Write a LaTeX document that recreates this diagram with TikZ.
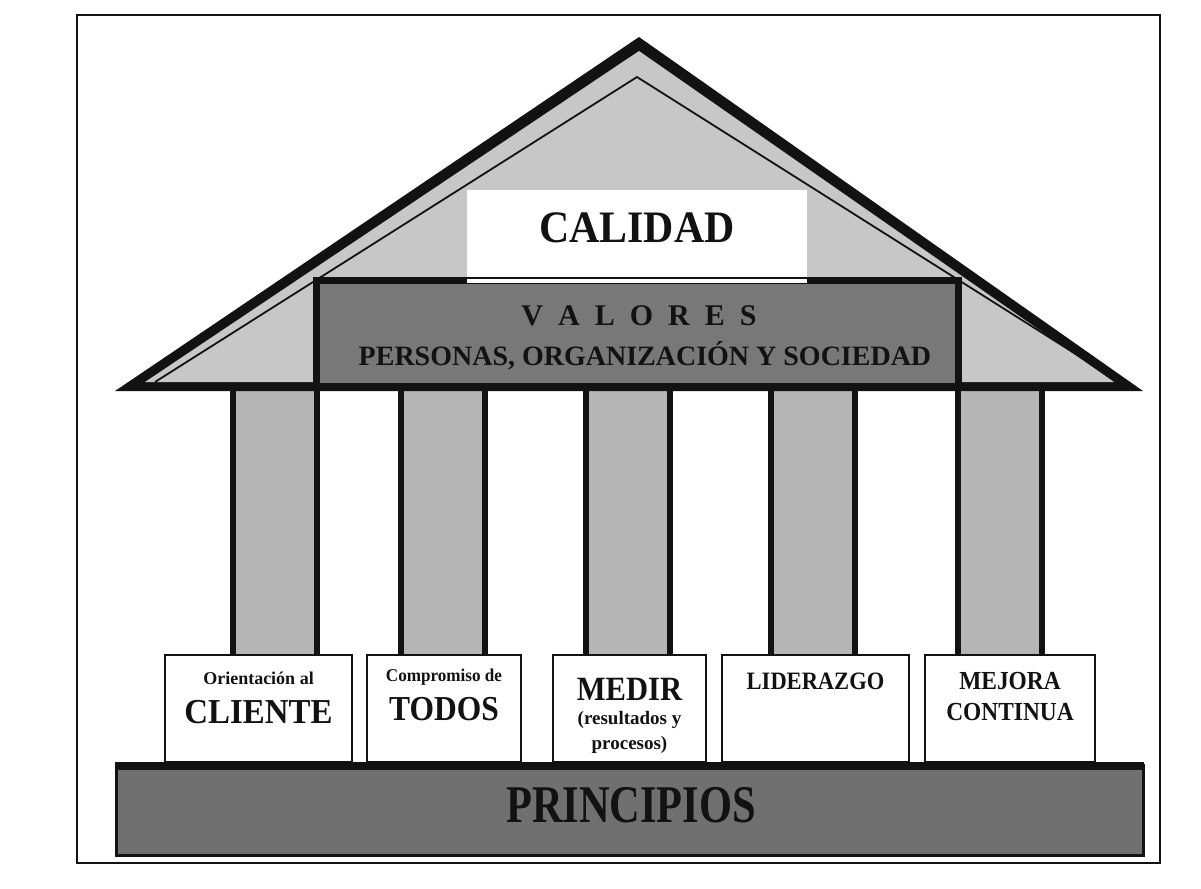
\documentclass[tikz,border=0pt]{standalone}
\usepackage{fontspec}
\setmainfont{Liberation Serif}
\usepackage{xcolor}
\usetikzlibrary{positioning,calc}

\definecolor{ink}{gray}{0.07}
\definecolor{roofgray}{gray}{0.78}
\definecolor{colgray}{gray}{0.71}
\definecolor{valgray}{gray}{0.47}
\definecolor{basegray}{gray}{0.44}

\begin{document}
\begin{tikzpicture}[x=0.5pt, y=-0.5pt,
  lbl/.style={inner sep=0pt, text=ink, font=\bfseries},
  pillar/.style={fill=colgray, draw=ink, line width=3pt},
  tile/.style={fill=white, draw=ink, line width=0.6pt}]
  \useasboundingbox (0,0) rectangle (1201,889);

  % Frame
  \draw[ink, line width=0.6pt] (77,15) rectangle (1160,863);

  % Pillars
  \foreach \px in {230, 398, 583, 768, 955}
    \draw[pillar] (\px+3,386) rectangle (\px+87,660);

  % Roof
  \fill[ink] (115,391) -- (639,37) -- (1143,391) -- cycle;
  \fill[roofgray] (145,382) -- (639,51) -- (1114,382) -- cycle;
  \draw[ink, line width=0.9pt] (155,382) -- (637,77) -- (1120,382);

  % Valores band
  \filldraw[fill=valgray, draw=ink, line width=3.5pt] (316.5,280) rectangle (958.5,386);
  \fill[white] (467,190) rectangle (807,283);
  \draw[ink, line width=0.8pt] (467,278) -- (807,278);
  \node[lbl, font=\bfseries\fontsize{22.5}{24}\selectfont] (calidad) at (637,228)
    {\scalebox{0.93}[1]{CALIDAD}};
  \node[lbl, font=\bfseries\fontsize{15}{17}\selectfont] (valores) at (639,316)
    {V\hspace{.5em}A\hspace{.5em}L\hspace{.5em}O\hspace{.5em}R\hspace{.5em}E\hspace{.5em}S};
  \node[lbl, font=\bfseries\fontsize{14}{16}\selectfont] (personas) at (645,356)
    {PERSONAS, ORGANIZACIÓN Y SOCIEDAD};

  % Principle tiles
  \draw[tile] (165,655) rectangle (352,762);
  \draw[tile] (367,655) rectangle (521,762);
  \draw[tile] (553,655) rectangle (706,762);
  \draw[tile] (722,655) rectangle (909,762);
  \draw[tile] (925,655) rectangle (1095,762);

  \node[lbl, font=\bfseries\fontsize{9}{10}\selectfont] (cli1) at (258.5,678) {Orientación al};
  \node[lbl, font=\bfseries\fontsize{17.5}{19}\selectfont] (cli2) at (258.5,712)
    {\scalebox{0.94}[1]{CLIENTE}};
  \node[lbl, font=\bfseries\fontsize{9}{10}\selectfont] (tod1) at (444,677) {\scalebox{0.95}[1]{Compromiso de}};
  \node[lbl, font=\bfseries\fontsize{17.5}{19}\selectfont] (tod2) at (444,709)
    {\scalebox{0.9}[1]{TODOS}};
  \node[lbl, font=\bfseries\fontsize{17}{19}\selectfont] (med1) at (629.5,689)
    {\scalebox{0.9}[1]{MEDIR}};
  \node[lbl, font=\bfseries\fontsize{9.5}{10}\selectfont] (med2) at (629.5,720) {(resultados y};
  \node[lbl, font=\bfseries\fontsize{9.5}{10}\selectfont] (med3) at (629.5,745) {procesos)};
  \node[lbl, font=\bfseries\fontsize{12.5}{14}\selectfont] (lid) at (815.5,681)
    {\scalebox{0.9}[1]{LIDERAZGO}};
  \node[lbl, font=\bfseries\fontsize{13}{14}\selectfont] (mej1) at (1010,681)
    {\scalebox{0.9}[1]{MEJORA}};
  \node[lbl, font=\bfseries\fontsize{13}{14}\selectfont] (mej2) at (1010,712)
    {\scalebox{0.9}[1]{CONTINUA}};

  % Principios base
  \filldraw[fill=basegray, draw=ink, line width=1.5pt] (116,765) rectangle (1143,855);
  \draw[ink, line width=4pt] (115,766) -- (1144,766);
  \node[lbl, font=\bfseries\fontsize{26.5}{28}\selectfont] (principios) at (631,805)
    {\scalebox{0.8}[1]{PRINCIPIOS}};

\end{tikzpicture}
\end{document}
